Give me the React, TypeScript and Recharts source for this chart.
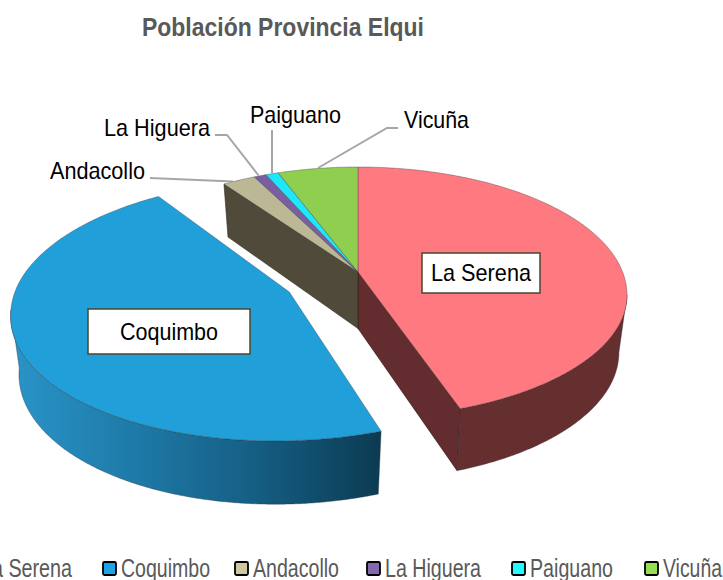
import { PieChart, Pie, Legend } from "recharts"

const names = ["La Serena", "Coquimbo", "Andacollo", "La Higuera", "Paiguano", "Vicuña"]
const shares = [43.8, 47.9, 2.0, 0.75, 0.75, 4.8]
const topColors = ["#fe7a80", "#219fd9", "#bcb896", "#7a5fa0", "#1ee6fb", "#8fce4f"]
const legendColors = ["#ff7f85", "#1fa3e6", "#cfc8a0", "#8468ae", "#22fbff", "#96dd50"]

const rows = names.map((name, i) => ({ name, share: shares[i], fill: topColors[i] }))

const FONT = '"Liberation Sans", Arial, sans-serif'
const TILT = 128 / 269
const RIM_SHIFT = 23

// the Coquimbo slice is pulled out and sits a bit closer to the viewer
const pulled: Record<string, any> = {
  Coquimbo: { dx: -70, dy: 15, apexDy: 20, sx: 1.03, sy: 1.023, lowSy: 1, skewTop: 0.075, skewLow: 0.1 },
}
const plain = { dx: 0, dy: 0, apexDy: 0, sx: 1, sy: 1, lowSy: 0.96, skewTop: 0, skewLow: 0 }

const wallColor: Record<string, string> = { "La Serena": "#632d30", Andacollo: "#4f4a39" }
const sideFill: Record<string, string> = { "La Serena": "#652e2f", Coquimbo: "url(#coquimboSide)" }

const boxed: Record<string, any> = {
  "La Serena": { x: 422, y: 253, w: 118, h: 40, textW: 100 },
  Coquimbo: { x: 88, y: 309, w: 162, h: 45, textW: 98 },
}
const leaders: Record<string, any> = {
  Andacollo: { x: 50, y: 179, textW: 95, line: "150,178 233,181.5" },
  "La Higuera": { x: 104, y: 136, textW: 106, line: "215,135 227,135 259,176" },
  Paiguano: { x: 250, y: 123, textW: 91, line: "272,130 272,173" },
  Vicuña: { x: 404, y: 128, textW: 65, line: "398,128 387,128 318,168" },
}

const legendX = [-37, 103, 235, 367, 512, 645]
const legendTextW = [91, 89, 86, 96, 83, 59]

const depthAt = (y: number) => 53 + (y - 184) * 0.04
const BOTTOM_SHRINK = 0.03

function SliceShape(props: any) {
  const { cx, cy, outerRadius, startAngle, endAngle, name, fill } = props
  const p = pulled[name] || plain
  const rimCy = cy + RIM_SHIFT + p.dy
  const rx = outerRadius * p.sx
  const ry = outerRadius * TILT * p.sy
  const centerX = cx + p.dx
  const skewed = (y: number) => (y < rimCy ? p.skewTop : p.skewLow) * (y - rimCy)
  const rimAt = (deg: number) => {
    const t = (deg * Math.PI) / 180
    const c = Math.cos(t)
    const y = rimCy - ry * c * (c < 0 ? p.lowSy : 1)
    const x = centerX + rx * Math.sin(t) - skewed(y)
    return [x, y]
  }
  const under = (q: number[]) => [q[0] + (centerX - q[0]) * BOTTOM_SHRINK, q[1] + depthAt(q[1])]

  const from = 90 - startAngle
  const to = 90 - endAngle
  const apexY = cy + p.apexDy
  const apexX = centerX - skewed(apexY)
  const rim: number[][] = []
  for (let d = from; d < to; d += 0.5) rim.push(rimAt(d))
  rim.push(rimAt(to))
  const topPath = `M${apexX},${apexY} ` + rim.map((q) => `L${q[0]},${q[1]}`).join(" ") + " Z"

  // outer band only shows on the front half of the rim
  const bandFrom = Math.max(from, 90)
  const bandTo = Math.min(to, 270)
  let bandPath = ""
  if (bandFrom < bandTo) {
    const up: number[][] = []
    for (let d = bandFrom; d < bandTo; d += 0.5) up.push(rimAt(d))
    up.push(rimAt(bandTo))
    const down = [...up].reverse().map(under)
    bandPath = "M" + [...up, ...down].map((q) => `${q[0]},${q[1]}`).join(" L") + " Z"
  }

  const wallPath = (deg: number) => {
    const q = rimAt(deg)
    const b = under(q)
    return `M${apexX},${apexY} L${q[0]},${q[1]} L${b[0]},${b[1]} L${apexX},${apexY + depthAt(apexY)} Z`
  }

  return (
    <g>
      <defs>
        <linearGradient id="coquimboSide" x1="0" y1="0" x2="1" y2="0">
          <stop offset="0" stopColor="#2a94c8" />
          <stop offset="0.3" stopColor="#1f7dab" />
          <stop offset="0.65" stopColor="#155f85" />
          <stop offset="1" stopColor="#0c3b52" />
        </linearGradient>
      </defs>
      {name === "Andacollo" && <path d={wallPath(from)} fill={wallColor.Andacollo} stroke="#2c2a20" strokeWidth={0.6} />}
      {name === "La Serena" && <path d={wallPath(to)} fill={wallColor["La Serena"]} stroke="#2a1414" strokeWidth={0.6} />}
      {bandPath && <path d={bandPath} fill={sideFill[name] || fill} stroke="#26303a" strokeOpacity={0.6} strokeWidth={0.6} />}
      <path d={topPath} fill={fill} stroke="#333" strokeOpacity={0.5} strokeWidth={0.7} />
    </g>
  )
}

function SliceLabel(props: any) {
  const { name } = props
  const box = boxed[name]
  if (box) {
    return (
      <g>
        <rect x={box.x} y={box.y} width={box.w} height={box.h} fill="#fff" stroke="#4a4630" strokeWidth={1.5} />
        <text
          x={box.x + box.w / 2}
          y={box.y + box.h / 2 + 8}
          textAnchor="middle"
          fontFamily={FONT}
          fontSize={24}
          fill="#000"
          textLength={box.textW}
          lengthAdjust="spacingAndGlyphs"
        >
          {name}
        </text>
      </g>
    )
  }
  const l = leaders[name]
  return (
    <g>
      <polyline points={l.line} fill="none" stroke="#a6a6a6" strokeWidth={2} />
      <text x={l.x} y={l.y} fontFamily={FONT} fontSize={24} fill="#000" textLength={l.textW} lengthAdjust="spacingAndGlyphs">
        {name}
      </text>
    </g>
  )
}

function LegendRow() {
  return (
    <svg width={723} height={30} style={{ display: "block", overflow: "visible" }}>
      {names.map((name, i) => (
        <g key={name}>
          <rect x={legendX[i]} y={12} width={13} height={13} rx={1.5} fill={legendColors[i]} stroke="#000" strokeWidth={1.8} />
          <text
            x={legendX[i] + 18}
            y={27}
            fontFamily={FONT}
            fontSize={25}
            fill="#595959"
            textLength={legendTextW[i]}
            lengthAdjust="spacingAndGlyphs"
          >
            {name}
          </text>
        </g>
      ))}
    </svg>
  )
}

export default function App() {
  return (
    <div style={{ position: "absolute", left: 0, top: 0, width: 723, height: 580, overflow: "hidden", background: "#fff" }}>
      <PieChart width={723} height={580} margin={{ top: 0, right: 0, bottom: 0, left: 0 }}>
        <text
          x={142}
          y={36}
          fontFamily={FONT}
          fontWeight="bold"
          fontSize={26}
          fill="#595959"
          textLength={282}
          lengthAdjust="spacingAndGlyphs"
        >
          Población Provincia Elqui
        </text>
        <Pie
          data={rows}
          dataKey="share"
          nameKey="name"
          cx={358}
          cy={272}
          innerRadius={0}
          outerRadius={269}
          startAngle={90}
          endAngle={-270}
          stroke="none"
          shape={SliceShape}
          label={SliceLabel}
          labelLine={false}
          isAnimationActive={false}
        />
        <Legend content={LegendRow} wrapperStyle={{ position: "absolute", left: 0, top: 550, width: 723, height: 30 }} />
      </PieChart>
    </div>
  )
}
